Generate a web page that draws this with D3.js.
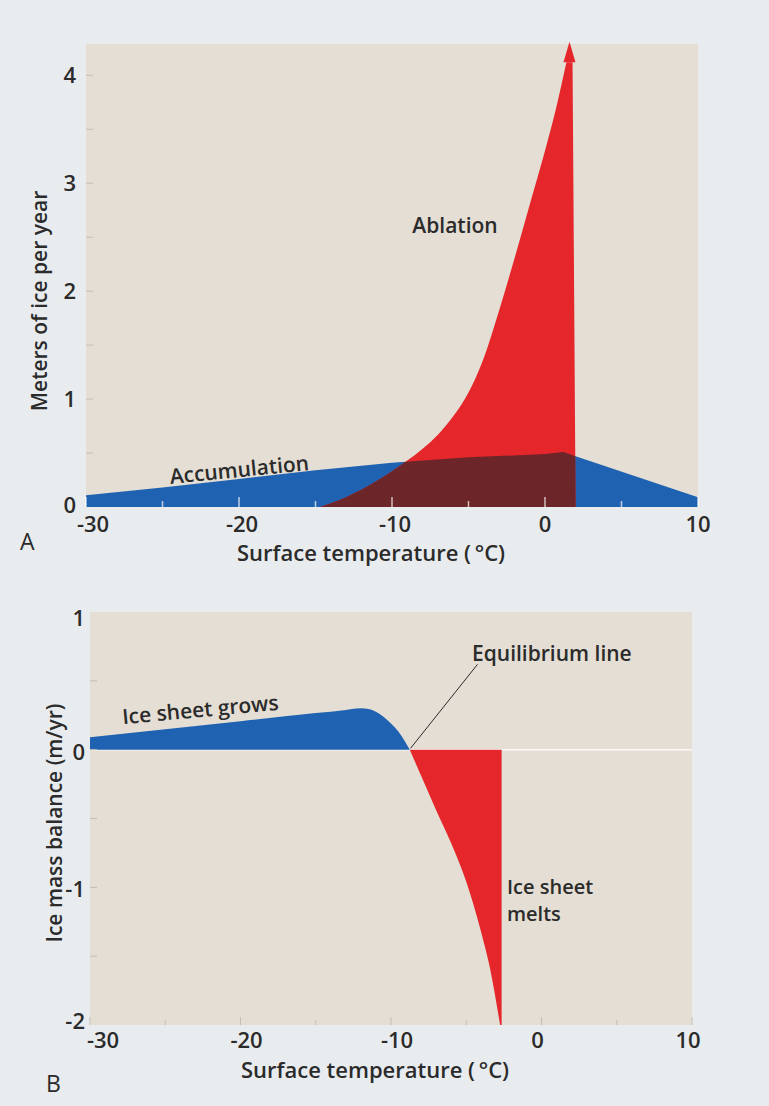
<!DOCTYPE html>
<html>
<head>
<meta charset="utf-8">
<script src="https://cdn.jsdelivr.net/npm/d3@7"></script>
<style>
  body { margin: 0; background: #e9ecef; }
  text { font-family: "Open Sans", Lato, sans-serif; fill: #2b2b2b; font-weight: 600; }
</style>
</head>
<body>
<svg id="chart" width="769" height="1106"></svg>
<script>
"use strict";

// shared axis values
var tempTicks = [-30, -20, -10, 0, 10];
var tempMinor = [-25, -15, -5, 5];
var iceTicks = [0, 1, 2, 3, 4];
var iceMinor = [0.5, 1.5, 2.5, 3.5];
var balanceTicks = [-2, -1, 0, 1];
var balanceMinor = [-1.5, -0.5, 0.5];

// panel A: accumulation and ablation (m of ice per year)
var accumTemp = [-30, -25, -20, -15, -10, -5, 0, 1.2, 2, 10];
var accumVal  = [0.11, 0.18, 0.26, 0.34, 0.41, 0.46, 0.49, 0.51, 0.47, 0.09];
var ablationTemp = [-14.7, -13, -11, -9, -8, -7, -6, -5, -4, -3, -2, -1, 0, 0.7, 1.4];
var ablationVal  = [0, 0.09, 0.24, 0.43, 0.54, 0.67, 0.84, 1.06, 1.38, 1.82, 2.3, 2.8, 3.3, 3.68, 4.12];
var ablationEdge = [2.0, 1.8];      // right edge at bottom / top
var arrowAt = 1.6, arrowBase = 4.12, arrowTip = 4.31;

// panel B: ice mass balance (m/yr)
var growTemp = [-30, -25, -20, -15, -13, -12.6, -12.0, -11.5, -11.0, -10.5, -10.0, -9.5, -9.1, -8.75];
var growVal  = [0.09, 0.149, 0.207, 0.266, 0.289, 0.295, 0.30, 0.295, 0.275, 0.24, 0.19, 0.13, 0.065, 0];
var meltTemp = [-8.75, -8, -7, -6, -5, -4, -3.4, -2.75];
var meltVal  = [0, -0.19, -0.44, -0.68, -0.96, -1.33, -1.6, -2.0];
var meltEdge = -2.65;
var eqLineTemp = [-8.7, -4.25];
var eqLineVal  = [0.01, 0.62];

var config = {
  paper: "#e4ded4",
  blue: "#2062b2",
  red: "#e5272b",
  dark: "#6c2529",
  tickFont: "22px",
  labelFont: "21px"
};

var svg = d3.select("#chart");
svg.append("rect").attr("width", 769).attr("height", 1106).attr("fill", "#e9ecef");

var zip = function(a, b) { return a.map(function(v, i) { return [v, b[i]]; }); };

function panelA() {
  var x = d3.scaleLinear().domain([-30, 10]).range([86, 698]);
  var y = d3.scaleLinear().domain([0, 4.29]).range([507, 44]);
  var g = svg.append("g").attr("id", "panelA");

  g.append("rect")
    .attr("x", x(-30)).attr("y", y(4.29))
    .attr("width", x(10) - x(-30)).attr("height", y(0) - y(4.29))
    .attr("fill", config.paper);

  var accum = zip(accumTemp, accumVal);
  var area = d3.area().x(function(d) { return x(d[0]); }).y0(y(0)).y1(function(d) { return y(d[1]); });
  g.append("path").attr("d", area(accum)).attr("fill", config.blue);

  // ablation outline: curve then the straight right edge
  var curve = d3.line().x(function(d) { return x(d[0]); }).y(function(d) { return y(d[1]); })
    .curve(d3.curveMonotoneX)(zip(ablationTemp, ablationVal));
  var ablationPath = curve +
    "L" + x(ablationEdge[1]) + "," + y(arrowBase) +
    "L" + x(ablationEdge[0]) + "," + y(0) + "Z";
  g.append("path").attr("d", ablationPath).attr("fill", config.red);

  g.append("clipPath").attr("id", "ablationClip").append("path").attr("d", ablationPath);
  g.append("path").attr("d", area(accum)).attr("fill", config.dark).attr("clip-path", "url(#ablationClip)");

  // arrow head on top of the ablation spike
  g.append("path")
    .attr("d", "M" + (x(arrowAt) - 6) + "," + y(arrowBase) +
               "L" + x(arrowAt) + "," + y(arrowTip) +
               "L" + (x(arrowAt) + 6) + "," + y(arrowBase) + "Z")
    .attr("fill", config.red);

  // ticks
  g.selectAll(".xmaj").data(tempTicks).enter().append("line")
    .attr("x1", x).attr("x2", x).attr("y1", y(0)).attr("y2", y(0) - 10)
    .attr("stroke", "rgba(255,255,255,0.7)").attr("stroke-width", 1.5);
  g.selectAll(".xmin").data(tempMinor).enter().append("line")
    .attr("x1", x).attr("x2", x).attr("y1", y(0)).attr("y2", y(0) - 6)
    .attr("stroke", "rgba(255,255,255,0.7)").attr("stroke-width", 1.5);
  g.selectAll(".ytk").data(iceTicks.concat(iceMinor).filter(function(d) { return d > 0; })).enter().append("line")
    .attr("x1", x(-30)).attr("x2", x(-30) + 7).attr("y1", y).attr("y2", y)
    .attr("stroke", "#c4beb3").attr("stroke-width", 1);

  // tick labels
  g.selectAll(".ylab").data(iceTicks).enter().append("text")
    .attr("x", 76).attr("y", function(d) { return y(d) - (d === 0 ? 2 : 0); }).attr("dy", "0.36em")
    .attr("text-anchor", "end").style("font-size", config.tickFont)
    .text(function(d) { return d; });
  g.selectAll(".xlab").data(tempTicks).enter().append("text")
    .attr("x", function(d) { return x(d) + (d === -30 ? 7 : d < 0 ? 3 : 0); }).attr("y", 532)
    .attr("text-anchor", "middle").style("font-size", config.tickFont)
    .text(function(d) { return d; });

  g.append("text").attr("x", 371).attr("y", 561).attr("text-anchor", "middle")
    .style("font-size", config.tickFont).text("Surface temperature (\u2009\u00b0C)");
  g.append("text").attr("transform", "translate(47,301) rotate(-90)").attr("text-anchor", "middle")
    .style("font-size", config.labelFont).text("Meters of ice per year");
  g.append("text").attr("x", 20).attr("y", 550).style("font-size", "23px")
    .style("font-weight", 400).text("A");

  g.append("text").attr("transform", "translate(240,477) rotate(-5.7)").attr("text-anchor", "middle")
    .style("font-size", config.labelFont).text("Accumulation");
  g.append("text").attr("x", 455).attr("y", 233).attr("text-anchor", "middle")
    .style("font-size", config.labelFont).text("Ablation");
}

function panelB() {
  var x = d3.scaleLinear().domain([-30, 10]).range([90, 692]);
  var y = d3.scaleLinear().domain([-2, 1]).range([1025, 612]);
  var g = svg.append("g").attr("id", "panelB");

  g.append("rect")
    .attr("x", x(-30)).attr("y", y(1))
    .attr("width", x(10) - x(-30)).attr("height", y(-2) - y(1))
    .attr("fill", config.paper);

  g.append("line").attr("x1", x(-30)).attr("x2", x(10)).attr("y1", y(0)).attr("y2", y(0))
    .attr("stroke", "rgba(255,255,255,0.8)").attr("stroke-width", 1.5);

  var area = d3.area().x(function(d) { return x(d[0]); }).y0(y(0)).y1(function(d) { return y(d[1]); })
    .curve(d3.curveMonotoneX);
  g.append("path").attr("d", area(zip(growTemp, growVal))).attr("fill", config.blue);

  var melt = d3.line().x(function(d) { return x(d[0]); }).y(function(d) { return y(d[1]); })
    .curve(d3.curveMonotoneX)(zip(meltTemp, meltVal));
  g.append("path")
    .attr("d", melt + "L" + x(meltEdge) + "," + y(-2) + "L" + x(meltEdge) + "," + y(0) + "Z")
    .attr("fill", config.red);

  // ticks
  g.selectAll(".xtk").data(tempTicks.concat(tempMinor)).enter().append("line")
    .attr("x1", x).attr("x2", x).attr("y1", y(-2)).attr("y2", function(d) { return y(-2) - (d % 10 === 0 ? 8 : 5); })
    .attr("stroke", "#c4beb3").attr("stroke-width", 1);
  g.selectAll(".ytk").data([-1, 0].concat(balanceMinor)).enter().append("line")
    .attr("x1", x(-30)).attr("x2", x(-30) + 7).attr("y1", y).attr("y2", y)
    .attr("stroke", "#c4beb3").attr("stroke-width", 1);

  g.selectAll(".ylab").data(balanceTicks).enter().append("text")
    .attr("x", 85).attr("y", function(d) { return y(d) + (d === 1 ? 6 : d === -2 ? -4 : 2); }).attr("dy", "0.36em")
    .attr("text-anchor", "end").style("font-size", config.tickFont)
    .text(function(d) { return d; });
  g.selectAll(".xlab").data(tempTicks).enter().append("text")
    .attr("x", function(d) { return x(d) + (d === -30 ? 13 : d < 0 ? 6 : -4); }).attr("y", 1048)
    .attr("text-anchor", "middle").style("font-size", config.tickFont)
    .text(function(d) { return d; });

  g.append("text").attr("x", 375).attr("y", 1078).attr("text-anchor", "middle")
    .style("font-size", config.tickFont).text("Surface temperature (\u2009\u00b0C)");
  g.append("text").attr("transform", "translate(62,823) rotate(-90)").attr("text-anchor", "middle")
    .style("font-size", config.labelFont).text("Ice mass balance (m/yr)");
  g.append("text").attr("x", 46).attr("y", 1092).style("font-size", "23px")
    .style("font-weight", 400).text("B");

  g.append("line")
    .attr("x1", x(eqLineTemp[0])).attr("y1", y(eqLineVal[0]))
    .attr("x2", x(eqLineTemp[1])).attr("y2", y(eqLineVal[1]))
    .attr("stroke", "#2b2b2b").attr("stroke-width", 1);
  g.append("text").attr("x", 472).attr("y", 661).style("font-size", config.labelFont).text("Equilibrium line");
  g.append("text").attr("transform", "translate(201,717) rotate(-5.3)").attr("text-anchor", "middle")
    .style("font-size", config.labelFont).text("Ice sheet grows");
  g.append("text").attr("x", 507).attr("y", 894).style("font-size", "20px").text("Ice sheet");
  g.append("text").attr("x", 507).attr("y", 921).style("font-size", "20px").text("melts");
}

panelA();
panelB();
</script>
</body>
</html>
